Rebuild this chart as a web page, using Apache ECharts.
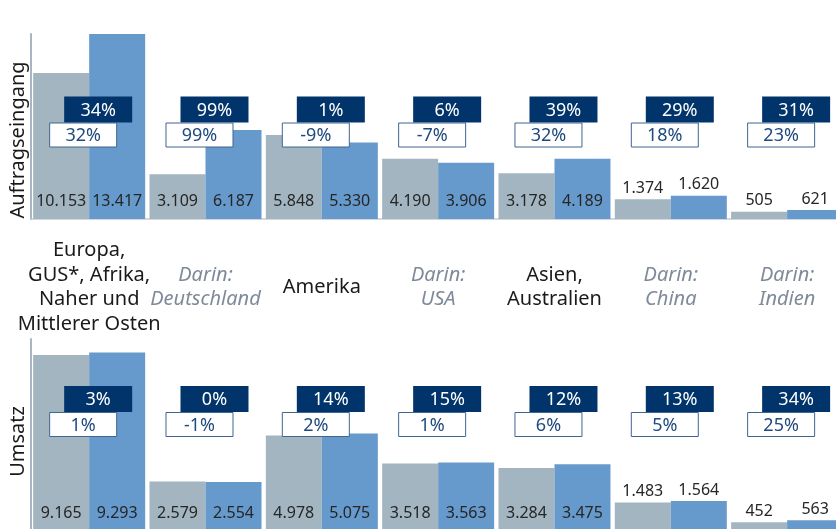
<!DOCTYPE html>
<html>
<head>
<meta charset="utf-8">
<script src="https://cdn.jsdelivr.net/npm/echarts@6/dist/echarts.min.js"></script>
<style>
  html, body { margin: 0; padding: 0; background: #ffffff; }
  #chart { width: 836px; height: 529px; }
</style>
</head>
<body>
<div id="chart"></div>
<script>
// ---- Data ----
var categories = [
  "Europa,\nGUS*, Afrika,\nNaher und\nMittlerer Osten",
  "Darin:\nDeutschland",
  "Amerika",
  "Darin:\nUSA",
  "Asien,\nAustralien",
  "Darin:\nChina",
  "Darin:\nIndien"
];
var seriesNames = ["Vorjahr", "Berichtsjahr"];
var ordersPrev = [10153, 3109, 5848, 4190, 3178, 1374, 505];
var ordersCurr = [13417, 6187, 5330, 3906, 4189, 1620, 621];
var salesPrev  = [9165, 2579, 4978, 3518, 3284, 1483, 452];
var salesCurr  = [9293, 2554, 5075, 3563, 3475, 1564, 563];
var ordersChangeNominal  = [34, 99, 1, 6, 39, 29, 31];
var ordersChangeAdjusted = [32, 99, -9, -7, 32, 18, 23];
var salesChangeNominal   = [3, 0, 14, 15, 12, 13, 34];
var salesChangeAdjusted  = [1, -1, 2, 1, 6, 5, 25];
var panelNames = ["Auftragseingang", "Umsatz"];

// ---- Styles ----
var GRAY = '#A2B5C0', BLUE = '#6699CC', NAVY = '#00346A';
var FONT = "'Noto Sans', 'Open Sans', sans-serif";
var chart = echarts.init(document.getElementById('chart'), null, {renderer: 'canvas'});

function fmt(v) {
  return String(v).replace(/\B(?=(\d{3})+(?!\d))/g, '.');
}
function barData(values, max) {
  return values.map(function (v) {
    var small = v / max < 0.2;
    return {
      value: v,
      label: small ? {position: 'top', distance: 3} : {position: 'insideBottom', distance: 10}
    };
  });
}
function boxData(a, b) {
  return a.map(function (v, i) { return [i, v, b[i]]; });
}
function boxRenderer(boxTop) {
  return function (params, api) {
    var cx = api.coord([api.value(0), 0])[0];
    var w = 68, h1 = 26, h2 = 25;
    var nx = cx + 9 - w / 2, wx = cx - 6 - w / 2;
    return {
      type: 'group',
      children: [
        {type: 'rect', shape: {x: nx, y: boxTop, width: w, height: h1},
         style: {fill: NAVY}},
        {type: 'text', style: {x: nx + w / 2, y: boxTop + h1 / 2 + 1, text: api.value(1) + '%',
          fill: '#ffffff', font: '18px ' + FONT, align: 'center', verticalAlign: 'middle'}},
        {type: 'rect', shape: {x: wx + 0.5, y: boxTop + h1 + 0.5, width: w - 1, height: h2 - 1},
         style: {fill: '#ffffff', stroke: '#3F6591', lineWidth: 1}},
        {type: 'text', style: {x: wx + w / 2, y: boxTop + h1 + h2 / 2 + 1, text: api.value(2) + '%',
          fill: '#1F4A7E', font: '18px ' + FONT, align: 'center', verticalAlign: 'middle'}}
      ]
    };
  };
}

var MAX_TOP = 12875, MAX_BOT = 10000;

var catLabel = {fontSize: 20, lineHeight: 24.5, color: '#1a1a1a', fontFamily: FONT, verticalAlign: 'middle'};
var catData = categories.map(function (c) {
  var sub = c.indexOf('Darin:') === 0;
  return sub ? {value: c, textStyle: {fontSize: 20, lineHeight: 24.5, fontFamily: FONT,
    verticalAlign: 'middle', color: '#7F8A99', fontStyle: 'italic'}} : c;
});

var labelStyle = {show: true, color: '#262626', fontSize: 16, fontFamily: FONT, formatter: function (p) { return fmt(p.value); }};

var option = {
  animation: false,
  backgroundColor: '#ffffff',
  textStyle: {fontFamily: FONT},
  grid: [
    {left: 31, width: 814.3, top: 34, height: 185, outerBoundsMode: 'none', containLabel: false},
    {left: 31, width: 814.3, top: 339, height: 192, outerBoundsMode: 'none', containLabel: false}
  ],
  xAxis: [
    {type: 'category', gridIndex: 0, data: catData,
     axisLine: {show: true, lineStyle: {color: '#C3CBD2', width: 1.5}},
     axisTick: {show: false},
     axisLabel: Object.assign({interval: 0, margin: 68.5}, catLabel)},
    {type: 'category', gridIndex: 1, data: categories,
     axisLine: {show: true, lineStyle: {color: '#C3CBD2', width: 1.5}},
     axisTick: {show: false}, axisLabel: {show: false}}
  ],
  yAxis: [
    {type: 'value', gridIndex: 0, min: 0, max: MAX_TOP,
     name: panelNames[0], nameLocation: 'middle', nameGap: 3,
     nameTextStyle: {fontSize: 20, color: '#1a1a1a', fontFamily: FONT, padding: [0, 27, 0, 0]},
     axisLine: {show: true, lineStyle: {color: '#A9B6C1', width: 2}},
     axisTick: {show: false}, axisLabel: {show: false}, splitLine: {show: false}},
    {type: 'value', gridIndex: 1, min: 0, max: MAX_BOT,
     name: panelNames[1], nameLocation: 'middle', nameGap: 3,
     nameTextStyle: {fontSize: 20, color: '#1a1a1a', fontFamily: FONT, padding: [0, 13, 0, 0]},
     axisLine: {show: true, lineStyle: {color: '#A9B6C1', width: 2}},
     axisTick: {show: false}, axisLabel: {show: false}, splitLine: {show: false}}
  ],
  series: [
    {name: seriesNames[0], type: 'bar', xAxisIndex: 0, yAxisIndex: 0, barWidth: 56, barGap: '0%',
     itemStyle: {color: GRAY}, label: labelStyle, data: barData(ordersPrev, MAX_TOP)},
    {name: seriesNames[1], type: 'bar', xAxisIndex: 0, yAxisIndex: 0, barWidth: 56, barGap: '0%',
     itemStyle: {color: BLUE}, label: labelStyle, data: barData(ordersCurr, MAX_TOP)},
    {name: seriesNames[0], type: 'bar', xAxisIndex: 1, yAxisIndex: 1, barWidth: 56, barGap: '0%',
     itemStyle: {color: GRAY}, label: labelStyle, data: barData(salesPrev, MAX_BOT)},
    {name: seriesNames[1], type: 'bar', xAxisIndex: 1, yAxisIndex: 1, barWidth: 56, barGap: '0%',
     itemStyle: {color: BLUE}, label: labelStyle, data: barData(salesCurr, MAX_BOT)},
    {type: 'custom', xAxisIndex: 0, yAxisIndex: 0, z: 10, clip: false,
     renderItem: boxRenderer(96.5), data: boxData(ordersChangeNominal, ordersChangeAdjusted)},
    {type: 'custom', xAxisIndex: 1, yAxisIndex: 1, z: 10, clip: false,
     renderItem: boxRenderer(386), data: boxData(salesChangeNominal, salesChangeAdjusted)}
  ]
};
chart.setOption(option);
</script>
</body>
</html>
